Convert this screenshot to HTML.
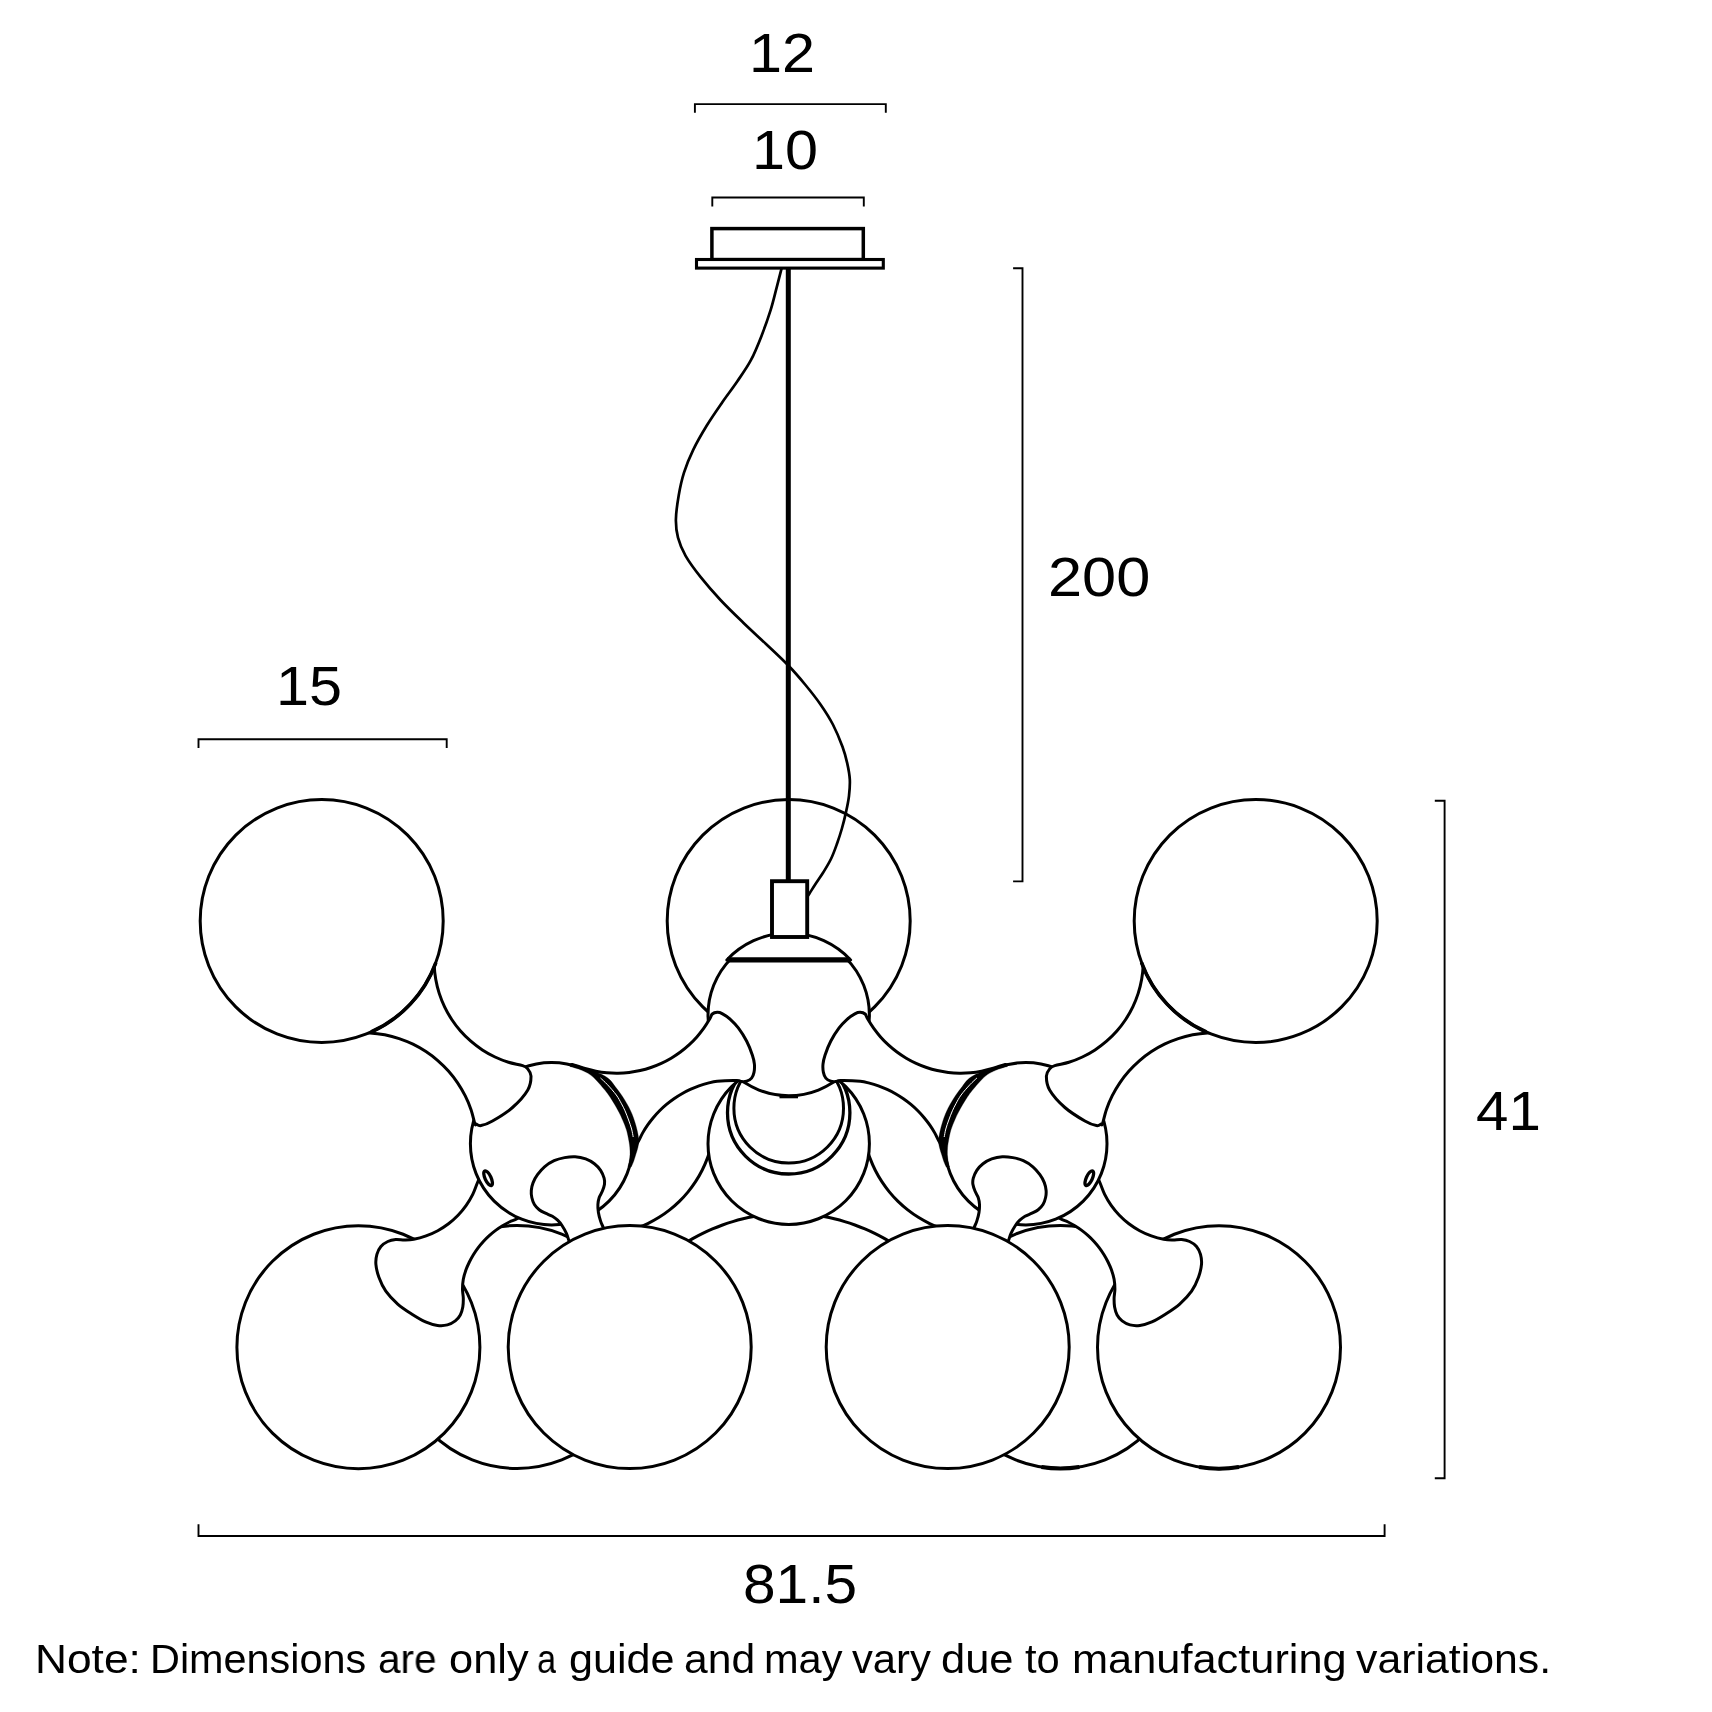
<!DOCTYPE html>
<html><head><meta charset="utf-8"><title>Pendant dimensions</title>
<style>html,body{margin:0;padding:0;background:#fff}body{width:1712px;height:1712px;position:relative;overflow:hidden;font-family:"Liberation Sans",sans-serif;color:#000}.d{position:absolute;font-size:56.0px;line-height:1;white-space:nowrap;transform-origin:0 0;transform:scaleX(1.06)}.n{position:absolute;font-size:41.4px;line-height:1;white-space:nowrap;transform-origin:0 0;will-change:transform}</style></head><body>
<svg width="1712" height="1712" viewBox="0 0 1712 1712" style="position:absolute;left:0;top:0" fill="none" stroke="#000" stroke-linecap="butt" stroke-linejoin="round">
<defs><clipPath id="h3clip"><circle cx="788.70" cy="1143.70" r="80.70"/></clipPath></defs>
<circle cx="788.70" cy="921.00" r="121.50" fill="none" stroke-width="3.0"/>
<circle cx="517.00" cy="1347.00" r="121.50" fill="#fff" stroke-width="3.0"/>
<path d="M635.82 1228.50 C637.81 1227.68 643.88 1225.42 647.76 1223.55 C651.64 1221.69 655.43 1219.61 659.08 1217.33 C662.73 1215.06 666.28 1212.57 669.66 1209.91 C673.04 1207.26 676.30 1204.40 679.37 1201.39 C682.44 1198.37 685.36 1195.18 688.08 1191.85 C690.81 1188.52 693.36 1185.02 695.71 1181.42 C698.05 1177.81 700.21 1174.05 702.14 1170.21 C704.08 1166.37 705.82 1162.40 707.32 1158.38 C708.83 1154.35 710.53 1148.10 711.18 1146.04" fill="none" stroke-width="3.0" />
<path d="M683.94 1243.91 C685.48 1242.99 690.05 1240.14 693.18 1238.38 C696.30 1236.63 699.48 1234.96 702.70 1233.38 C705.92 1231.80 709.19 1230.30 712.49 1228.90 C715.79 1227.50 719.13 1226.19 722.51 1224.97 C725.88 1223.76 729.29 1222.63 732.73 1221.60 C736.16 1220.57 739.63 1219.64 743.12 1218.80 C746.60 1217.96 750.12 1217.22 753.65 1216.57 C757.17 1215.93 760.72 1215.38 764.28 1214.93 C767.84 1214.49 773.21 1214.06 774.99 1213.88" fill="none" stroke-width="3.0" />
<g transform="translate(1577.40,0) scale(-1,1)">
<circle cx="517.00" cy="1347.00" r="121.50" fill="#fff" stroke-width="3.0"/>
<path d="M635.82 1228.50 C637.81 1227.68 643.88 1225.42 647.76 1223.55 C651.64 1221.69 655.43 1219.61 659.08 1217.33 C662.73 1215.06 666.28 1212.57 669.66 1209.91 C673.04 1207.26 676.30 1204.40 679.37 1201.39 C682.44 1198.37 685.36 1195.18 688.08 1191.85 C690.81 1188.52 693.36 1185.02 695.71 1181.42 C698.05 1177.81 700.21 1174.05 702.14 1170.21 C704.08 1166.37 705.82 1162.40 707.32 1158.38 C708.83 1154.35 710.53 1148.10 711.18 1146.04" fill="none" stroke-width="3.0" />
<path d="M683.94 1243.91 C685.48 1242.99 690.05 1240.14 693.18 1238.38 C696.30 1236.63 699.48 1234.96 702.70 1233.38 C705.92 1231.80 709.19 1230.30 712.49 1228.90 C715.79 1227.50 719.13 1226.19 722.51 1224.97 C725.88 1223.76 729.29 1222.63 732.73 1221.60 C736.16 1220.57 739.63 1219.64 743.12 1218.80 C746.60 1217.96 750.12 1217.22 753.65 1216.57 C757.17 1215.93 760.72 1215.38 764.28 1214.93 C767.84 1214.49 773.21 1214.06 774.99 1213.88" fill="none" stroke-width="3.0" />
</g>
<circle cx="788.70" cy="1143.70" r="80.70" fill="#fff" stroke-width="3.0"/>
<g clip-path="url(#h3clip)">
<circle cx="788.70" cy="1112.80" r="61.20" fill="none" stroke-width="3.3"/>
<circle cx="788.70" cy="1108.30" r="54.80" fill="none" stroke-width="3.0"/>
</g>
<circle cx="788.70" cy="1015.00" r="80.70" fill="#fff" stroke-width="3.0"/>
<line x1="779.5" y1="1096.6" x2="798" y2="1096.6" stroke-width="3.4"/>
<path d="M726.8 959.9 A84.75 84.75 0 0 1 850.6 959.9 Z" fill="#fff" stroke-width="3.0"/>
<line x1="727.2" y1="959.9" x2="850.2" y2="959.9" stroke-width="5.4"/>
<path d="M572.00 1064.50 C574.17 1065.17 581.03 1067.39 585.00 1068.51 C588.97 1069.63 592.18 1070.50 595.82 1071.21 C599.47 1071.92 603.17 1072.45 606.87 1072.78 C610.57 1073.11 614.31 1073.24 618.03 1073.19 C621.74 1073.13 625.47 1072.88 629.16 1072.44 C632.85 1072.00 636.53 1071.36 640.16 1070.54 C643.78 1069.72 647.38 1068.70 650.90 1067.51 C654.42 1066.32 657.89 1064.93 661.27 1063.38 C664.64 1061.83 667.95 1060.09 671.15 1058.20 C674.34 1056.30 677.46 1054.23 680.44 1052.02 C683.42 1049.80 686.31 1047.42 689.04 1044.91 C691.78 1042.39 694.40 1039.73 696.86 1036.94 C699.32 1034.16 701.65 1031.23 703.81 1028.21 C705.96 1025.19 708.39 1021.17 709.81 1018.80 C711.23 1016.43 711.07 1015.08 712.30 1014.00 C713.53 1012.92 715.57 1012.37 717.20 1012.30 C718.83 1012.23 719.92 1012.43 722.10 1013.60 C724.28 1014.77 727.57 1016.87 730.30 1019.30 C733.03 1021.73 735.77 1024.53 738.50 1028.20 C741.23 1031.87 744.38 1036.80 746.70 1041.30 C749.02 1045.80 751.12 1051.38 752.40 1055.20 C753.68 1059.02 754.13 1061.33 754.40 1064.20 C754.67 1067.07 754.47 1070.08 754.00 1072.40 C753.53 1074.72 752.82 1076.63 751.60 1078.10 C750.38 1079.57 748.33 1080.62 746.70 1081.20 C745.07 1081.78 743.43 1081.70 741.80 1081.60 C740.17 1081.50 741.00 1080.66 736.90 1080.60 C732.80 1080.54 722.00 1080.83 717.18 1081.25 C712.36 1081.68 711.01 1082.40 707.98 1083.17 C704.95 1083.94 701.94 1084.86 698.99 1085.90 C696.04 1086.94 693.12 1088.12 690.28 1089.42 C687.43 1090.72 684.63 1092.15 681.92 1093.70 C679.20 1095.25 676.54 1096.92 673.97 1098.71 C671.40 1100.50 668.90 1102.40 666.50 1104.41 C664.10 1106.42 661.78 1108.54 659.57 1110.75 C657.36 1112.97 655.24 1115.29 653.23 1117.69 C651.23 1120.09 649.32 1122.59 647.54 1125.17 C645.76 1127.74 644.09 1130.40 642.54 1133.12 C640.99 1135.84 639.86 1138.67 638.27 1141.49 C636.68 1144.30 635.21 1146.91 633.00 1150.00 C630.79 1153.09 626.33 1158.33 625.00 1160.00 L600 1150Z" fill="#fff" stroke-width="3.0" />
<circle cx="358.40" cy="1347.20" r="121.50" fill="#fff" stroke-width="3.0"/>
<path d="M485.00 1165.00 C483.76 1167.92 479.57 1177.61 477.53 1182.51 C475.49 1187.41 474.64 1190.57 472.75 1194.38 C470.87 1198.20 468.66 1201.91 466.21 1205.39 C463.76 1208.87 461.02 1212.20 458.07 1215.26 C455.11 1218.32 451.89 1221.19 448.51 1223.77 C445.12 1226.34 441.49 1228.69 437.75 1230.72 C434.02 1232.74 430.07 1234.50 426.07 1235.94 C422.06 1237.37 417.28 1238.63 413.72 1239.31 C410.16 1239.98 407.70 1239.95 404.70 1240.00 C401.70 1240.05 398.52 1239.35 395.70 1239.60 C392.88 1239.85 390.27 1240.35 387.80 1241.50 C385.33 1242.65 382.72 1244.35 380.90 1246.50 C379.08 1248.65 377.73 1251.43 376.90 1254.40 C376.07 1257.37 375.57 1260.50 375.90 1264.30 C376.23 1268.10 377.25 1272.72 378.90 1277.20 C380.55 1281.68 382.67 1286.72 385.80 1291.20 C388.93 1295.68 393.40 1300.30 397.70 1304.10 C402.00 1307.90 406.97 1311.03 411.60 1314.00 C416.23 1316.97 421.18 1320.00 425.50 1321.90 C429.82 1323.80 433.85 1324.90 437.50 1325.40 C441.15 1325.90 444.43 1325.65 447.40 1324.90 C450.37 1324.15 453.15 1322.55 455.30 1320.90 C457.45 1319.25 459.05 1317.32 460.30 1315.00 C461.55 1312.68 462.30 1309.82 462.80 1307.00 C463.30 1304.18 463.35 1301.07 463.30 1298.10 C463.25 1295.13 462.50 1292.35 462.50 1289.20 C462.50 1286.05 462.70 1282.47 463.30 1279.20 C463.90 1275.93 465.06 1272.46 466.07 1269.59 C467.08 1266.72 468.16 1264.46 469.37 1261.98 C470.59 1259.50 471.94 1257.06 473.38 1254.71 C474.83 1252.35 476.40 1250.06 478.06 1247.85 C479.73 1245.65 481.50 1243.51 483.37 1241.47 C485.23 1239.43 487.21 1237.47 489.26 1235.62 C491.31 1233.76 493.45 1232.00 495.67 1230.35 C497.89 1228.70 500.19 1227.14 502.55 1225.71 C504.92 1224.28 507.36 1222.95 509.85 1221.75 C512.33 1220.54 514.12 1220.45 517.48 1218.49 C520.84 1216.53 527.91 1211.41 530.00 1210.00Z" fill="#fff" stroke-width="3.0" />
<circle cx="551.60" cy="1143.70" r="81.20" fill="#fff" stroke-width="3.0"/>
<path d="M570.00 1066.50 C571.67 1067.02 576.67 1068.25 580.00 1069.60 C583.33 1070.95 587.17 1072.70 590.00 1074.60 C592.83 1076.50 594.67 1078.58 597.00 1081.00 C599.33 1083.42 602.07 1086.77 604.00 1089.10 C605.93 1091.43 606.85 1092.48 608.60 1095.00 C610.35 1097.52 612.75 1101.27 614.50 1104.20 C616.25 1107.13 617.75 1109.97 619.10 1112.60 C620.45 1115.23 621.37 1117.10 622.60 1120.00 C623.83 1122.90 625.47 1126.58 626.50 1130.00 C627.53 1133.42 628.25 1137.58 628.80 1140.50 C629.35 1143.42 629.60 1145.17 629.80 1147.50 C630.00 1149.83 630.10 1152.17 630.00 1154.50 C629.90 1156.83 629.55 1159.42 629.20 1161.50 C628.85 1163.58 628.12 1166.08 627.90 1167.00 L631.20 1167.00 C631.60 1166.08 632.83 1163.58 633.60 1161.50 C634.37 1159.42 635.08 1156.83 635.80 1154.50 C636.52 1152.17 637.40 1149.83 637.90 1147.50 C638.40 1145.17 638.90 1143.25 638.80 1140.50 C638.70 1137.75 637.93 1134.00 637.30 1131.00 C636.67 1128.00 635.88 1125.33 635.00 1122.50 C634.12 1119.67 633.18 1116.85 632.00 1114.00 C630.82 1111.15 629.65 1108.57 627.90 1105.40 C626.15 1102.23 623.62 1098.13 621.50 1095.00 C619.38 1091.87 617.18 1089.17 615.20 1086.60 C613.22 1084.03 611.87 1081.65 609.60 1079.60 C607.33 1077.55 604.87 1075.92 601.60 1074.30 C598.33 1072.68 593.60 1071.23 590.00 1069.90 C586.40 1068.57 583.33 1067.35 580.00 1066.30 C576.67 1065.25 571.67 1064.05 570.00 1063.60Z" fill="#000" stroke-width="0.3" />
<path d="M600.50 1078.00 C601.67 1079.12 604.87 1081.87 607.50 1084.70 C610.13 1087.53 613.97 1091.82 616.30 1095.00 C618.63 1098.18 620.05 1101.17 621.50 1103.80 C622.95 1106.43 623.82 1108.10 625.00 1110.80 C626.18 1113.50 627.50 1116.97 628.60 1120.00 C629.70 1123.03 630.83 1126.17 631.60 1129.00 C632.37 1131.83 632.93 1135.67 633.20 1137.00" fill="none" stroke-width="1.0" stroke="#fff"/>
<path d="M434.60 950.45 C434.53 952.86 433.99 960.12 434.18 964.93 C434.37 969.75 434.89 974.60 435.73 979.34 C436.57 984.09 437.74 988.82 439.22 993.41 C440.70 997.99 442.50 1002.52 444.59 1006.86 C446.67 1011.21 449.08 1015.45 451.74 1019.47 C454.39 1023.49 457.35 1027.36 460.53 1030.99 C463.71 1034.61 467.17 1038.04 470.81 1041.20 C474.45 1044.36 478.34 1047.29 482.38 1049.92 C486.42 1052.56 490.67 1054.93 495.03 1056.99 C499.38 1059.05 503.92 1060.83 508.52 1062.28 C513.12 1063.73 519.44 1064.63 522.61 1065.68 C525.77 1066.74 526.10 1066.88 527.50 1068.60 C528.90 1070.32 530.95 1072.43 531.00 1076.00 C531.05 1079.57 530.88 1084.75 527.80 1090.00 C524.72 1095.25 518.38 1102.33 512.50 1107.50 C506.62 1112.67 497.75 1117.98 492.50 1121.00 C487.25 1124.02 483.75 1125.10 481.00 1125.60 C478.25 1126.10 477.01 1124.30 476.00 1124.00 C474.99 1123.70 475.77 1126.25 474.92 1123.82 C474.08 1121.39 472.58 1114.13 470.95 1109.44 C469.32 1104.75 467.37 1100.14 465.14 1095.70 C462.91 1091.27 460.38 1086.94 457.59 1082.84 C454.81 1078.73 451.73 1074.77 448.43 1071.06 C445.13 1067.36 441.56 1063.83 437.81 1060.58 C434.06 1057.34 430.06 1054.31 425.92 1051.58 C421.78 1048.85 417.42 1046.36 412.96 1044.20 C408.50 1042.03 403.85 1040.13 399.14 1038.57 C394.44 1037.00 389.59 1035.72 384.72 1034.78 C379.84 1033.84 374.87 1033.21 369.92 1032.91 C364.96 1032.61 357.48 1032.97 355.00 1032.98Z" fill="#fff" stroke-width="3.0" />
<circle cx="321.70" cy="921.00" r="121.50" fill="#fff" stroke-width="3.0"/>
<path d="M435.87 962.56 A121.50 121.50 0 0 1 371.12 1032.00" fill="none" stroke-width="3.6" />
<path d="M571.00 1245.00 C570.67 1244.30 569.77 1242.73 569.00 1240.80 C568.23 1238.87 567.57 1235.95 566.40 1233.40 C565.23 1230.85 563.47 1227.70 562.00 1225.50 C560.53 1223.30 559.20 1221.73 557.60 1220.20 C556.00 1218.67 554.43 1217.47 552.40 1216.30 C550.37 1215.13 547.60 1214.30 545.40 1213.20 C543.20 1212.10 541.03 1211.15 539.20 1209.70 C537.37 1208.25 535.63 1206.53 534.40 1204.50 C533.17 1202.47 532.32 1199.83 531.80 1197.50 C531.28 1195.17 531.08 1192.98 531.30 1190.50 C531.52 1188.02 532.07 1185.23 533.10 1182.60 C534.13 1179.97 535.60 1177.33 537.50 1174.70 C539.40 1172.07 541.73 1169.13 544.50 1166.80 C547.27 1164.47 550.75 1162.23 554.10 1160.70 C557.45 1159.17 561.10 1158.27 564.60 1157.60 C568.10 1156.93 571.58 1156.48 575.10 1156.70 C578.62 1156.92 582.48 1157.73 585.70 1158.90 C588.92 1160.07 591.92 1161.80 594.40 1163.70 C596.88 1165.60 598.98 1167.88 600.60 1170.30 C602.22 1172.72 603.45 1175.87 604.10 1178.20 C604.75 1180.53 604.80 1182.12 604.50 1184.30 C604.20 1186.48 603.18 1189.10 602.30 1191.30 C601.42 1193.50 599.93 1195.30 599.20 1197.50 C598.47 1199.70 598.03 1202.02 597.90 1204.50 C597.77 1206.98 597.95 1209.63 598.40 1212.40 C598.85 1215.17 599.80 1218.62 600.60 1221.10 C601.40 1223.58 602.30 1225.15 603.20 1227.30 C604.10 1229.45 605.53 1232.88 606.00 1234.00Z" fill="#fff" stroke-width="3.0" />
<circle cx="629.70" cy="1347.10" r="121.50" fill="#fff" stroke-width="3.0"/>
<ellipse cx="488.1" cy="1178.2" rx="3.0" ry="8.0" fill="#fff" stroke-width="3.3" transform="rotate(-25 488.1 1178.2)"/>
<g transform="translate(1577.40,0) scale(-1,1)">
<path d="M572.00 1064.50 C574.17 1065.17 581.03 1067.39 585.00 1068.51 C588.97 1069.63 592.18 1070.50 595.82 1071.21 C599.47 1071.92 603.17 1072.45 606.87 1072.78 C610.57 1073.11 614.31 1073.24 618.03 1073.19 C621.74 1073.13 625.47 1072.88 629.16 1072.44 C632.85 1072.00 636.53 1071.36 640.16 1070.54 C643.78 1069.72 647.38 1068.70 650.90 1067.51 C654.42 1066.32 657.89 1064.93 661.27 1063.38 C664.64 1061.83 667.95 1060.09 671.15 1058.20 C674.34 1056.30 677.46 1054.23 680.44 1052.02 C683.42 1049.80 686.31 1047.42 689.04 1044.91 C691.78 1042.39 694.40 1039.73 696.86 1036.94 C699.32 1034.16 701.65 1031.23 703.81 1028.21 C705.96 1025.19 708.39 1021.17 709.81 1018.80 C711.23 1016.43 711.07 1015.08 712.30 1014.00 C713.53 1012.92 715.57 1012.37 717.20 1012.30 C718.83 1012.23 719.92 1012.43 722.10 1013.60 C724.28 1014.77 727.57 1016.87 730.30 1019.30 C733.03 1021.73 735.77 1024.53 738.50 1028.20 C741.23 1031.87 744.38 1036.80 746.70 1041.30 C749.02 1045.80 751.12 1051.38 752.40 1055.20 C753.68 1059.02 754.13 1061.33 754.40 1064.20 C754.67 1067.07 754.47 1070.08 754.00 1072.40 C753.53 1074.72 752.82 1076.63 751.60 1078.10 C750.38 1079.57 748.33 1080.62 746.70 1081.20 C745.07 1081.78 743.43 1081.70 741.80 1081.60 C740.17 1081.50 741.00 1080.66 736.90 1080.60 C732.80 1080.54 722.00 1080.83 717.18 1081.25 C712.36 1081.68 711.01 1082.40 707.98 1083.17 C704.95 1083.94 701.94 1084.86 698.99 1085.90 C696.04 1086.94 693.12 1088.12 690.28 1089.42 C687.43 1090.72 684.63 1092.15 681.92 1093.70 C679.20 1095.25 676.54 1096.92 673.97 1098.71 C671.40 1100.50 668.90 1102.40 666.50 1104.41 C664.10 1106.42 661.78 1108.54 659.57 1110.75 C657.36 1112.97 655.24 1115.29 653.23 1117.69 C651.23 1120.09 649.32 1122.59 647.54 1125.17 C645.76 1127.74 644.09 1130.40 642.54 1133.12 C640.99 1135.84 639.86 1138.67 638.27 1141.49 C636.68 1144.30 635.21 1146.91 633.00 1150.00 C630.79 1153.09 626.33 1158.33 625.00 1160.00 L600 1150Z" fill="#fff" stroke-width="3.0" />
<circle cx="358.40" cy="1347.20" r="121.50" fill="#fff" stroke-width="3.0"/>
<path d="M485.00 1165.00 C483.76 1167.92 479.57 1177.61 477.53 1182.51 C475.49 1187.41 474.64 1190.57 472.75 1194.38 C470.87 1198.20 468.66 1201.91 466.21 1205.39 C463.76 1208.87 461.02 1212.20 458.07 1215.26 C455.11 1218.32 451.89 1221.19 448.51 1223.77 C445.12 1226.34 441.49 1228.69 437.75 1230.72 C434.02 1232.74 430.07 1234.50 426.07 1235.94 C422.06 1237.37 417.28 1238.63 413.72 1239.31 C410.16 1239.98 407.70 1239.95 404.70 1240.00 C401.70 1240.05 398.52 1239.35 395.70 1239.60 C392.88 1239.85 390.27 1240.35 387.80 1241.50 C385.33 1242.65 382.72 1244.35 380.90 1246.50 C379.08 1248.65 377.73 1251.43 376.90 1254.40 C376.07 1257.37 375.57 1260.50 375.90 1264.30 C376.23 1268.10 377.25 1272.72 378.90 1277.20 C380.55 1281.68 382.67 1286.72 385.80 1291.20 C388.93 1295.68 393.40 1300.30 397.70 1304.10 C402.00 1307.90 406.97 1311.03 411.60 1314.00 C416.23 1316.97 421.18 1320.00 425.50 1321.90 C429.82 1323.80 433.85 1324.90 437.50 1325.40 C441.15 1325.90 444.43 1325.65 447.40 1324.90 C450.37 1324.15 453.15 1322.55 455.30 1320.90 C457.45 1319.25 459.05 1317.32 460.30 1315.00 C461.55 1312.68 462.30 1309.82 462.80 1307.00 C463.30 1304.18 463.35 1301.07 463.30 1298.10 C463.25 1295.13 462.50 1292.35 462.50 1289.20 C462.50 1286.05 462.70 1282.47 463.30 1279.20 C463.90 1275.93 465.06 1272.46 466.07 1269.59 C467.08 1266.72 468.16 1264.46 469.37 1261.98 C470.59 1259.50 471.94 1257.06 473.38 1254.71 C474.83 1252.35 476.40 1250.06 478.06 1247.85 C479.73 1245.65 481.50 1243.51 483.37 1241.47 C485.23 1239.43 487.21 1237.47 489.26 1235.62 C491.31 1233.76 493.45 1232.00 495.67 1230.35 C497.89 1228.70 500.19 1227.14 502.55 1225.71 C504.92 1224.28 507.36 1222.95 509.85 1221.75 C512.33 1220.54 514.12 1220.45 517.48 1218.49 C520.84 1216.53 527.91 1211.41 530.00 1210.00Z" fill="#fff" stroke-width="3.0" />
<circle cx="551.60" cy="1143.70" r="81.20" fill="#fff" stroke-width="3.0"/>
<path d="M570.00 1066.50 C571.67 1067.02 576.67 1068.25 580.00 1069.60 C583.33 1070.95 587.17 1072.70 590.00 1074.60 C592.83 1076.50 594.67 1078.58 597.00 1081.00 C599.33 1083.42 602.07 1086.77 604.00 1089.10 C605.93 1091.43 606.85 1092.48 608.60 1095.00 C610.35 1097.52 612.75 1101.27 614.50 1104.20 C616.25 1107.13 617.75 1109.97 619.10 1112.60 C620.45 1115.23 621.37 1117.10 622.60 1120.00 C623.83 1122.90 625.47 1126.58 626.50 1130.00 C627.53 1133.42 628.25 1137.58 628.80 1140.50 C629.35 1143.42 629.60 1145.17 629.80 1147.50 C630.00 1149.83 630.10 1152.17 630.00 1154.50 C629.90 1156.83 629.55 1159.42 629.20 1161.50 C628.85 1163.58 628.12 1166.08 627.90 1167.00 L631.20 1167.00 C631.60 1166.08 632.83 1163.58 633.60 1161.50 C634.37 1159.42 635.08 1156.83 635.80 1154.50 C636.52 1152.17 637.40 1149.83 637.90 1147.50 C638.40 1145.17 638.90 1143.25 638.80 1140.50 C638.70 1137.75 637.93 1134.00 637.30 1131.00 C636.67 1128.00 635.88 1125.33 635.00 1122.50 C634.12 1119.67 633.18 1116.85 632.00 1114.00 C630.82 1111.15 629.65 1108.57 627.90 1105.40 C626.15 1102.23 623.62 1098.13 621.50 1095.00 C619.38 1091.87 617.18 1089.17 615.20 1086.60 C613.22 1084.03 611.87 1081.65 609.60 1079.60 C607.33 1077.55 604.87 1075.92 601.60 1074.30 C598.33 1072.68 593.60 1071.23 590.00 1069.90 C586.40 1068.57 583.33 1067.35 580.00 1066.30 C576.67 1065.25 571.67 1064.05 570.00 1063.60Z" fill="#000" stroke-width="0.3" />
<path d="M600.50 1078.00 C601.67 1079.12 604.87 1081.87 607.50 1084.70 C610.13 1087.53 613.97 1091.82 616.30 1095.00 C618.63 1098.18 620.05 1101.17 621.50 1103.80 C622.95 1106.43 623.82 1108.10 625.00 1110.80 C626.18 1113.50 627.50 1116.97 628.60 1120.00 C629.70 1123.03 630.83 1126.17 631.60 1129.00 C632.37 1131.83 632.93 1135.67 633.20 1137.00" fill="none" stroke-width="1.0" stroke="#fff"/>
<path d="M434.60 950.45 C434.53 952.86 433.99 960.12 434.18 964.93 C434.37 969.75 434.89 974.60 435.73 979.34 C436.57 984.09 437.74 988.82 439.22 993.41 C440.70 997.99 442.50 1002.52 444.59 1006.86 C446.67 1011.21 449.08 1015.45 451.74 1019.47 C454.39 1023.49 457.35 1027.36 460.53 1030.99 C463.71 1034.61 467.17 1038.04 470.81 1041.20 C474.45 1044.36 478.34 1047.29 482.38 1049.92 C486.42 1052.56 490.67 1054.93 495.03 1056.99 C499.38 1059.05 503.92 1060.83 508.52 1062.28 C513.12 1063.73 519.44 1064.63 522.61 1065.68 C525.77 1066.74 526.10 1066.88 527.50 1068.60 C528.90 1070.32 530.95 1072.43 531.00 1076.00 C531.05 1079.57 530.88 1084.75 527.80 1090.00 C524.72 1095.25 518.38 1102.33 512.50 1107.50 C506.62 1112.67 497.75 1117.98 492.50 1121.00 C487.25 1124.02 483.75 1125.10 481.00 1125.60 C478.25 1126.10 477.01 1124.30 476.00 1124.00 C474.99 1123.70 475.77 1126.25 474.92 1123.82 C474.08 1121.39 472.58 1114.13 470.95 1109.44 C469.32 1104.75 467.37 1100.14 465.14 1095.70 C462.91 1091.27 460.38 1086.94 457.59 1082.84 C454.81 1078.73 451.73 1074.77 448.43 1071.06 C445.13 1067.36 441.56 1063.83 437.81 1060.58 C434.06 1057.34 430.06 1054.31 425.92 1051.58 C421.78 1048.85 417.42 1046.36 412.96 1044.20 C408.50 1042.03 403.85 1040.13 399.14 1038.57 C394.44 1037.00 389.59 1035.72 384.72 1034.78 C379.84 1033.84 374.87 1033.21 369.92 1032.91 C364.96 1032.61 357.48 1032.97 355.00 1032.98Z" fill="#fff" stroke-width="3.0" />
<circle cx="321.70" cy="921.00" r="121.50" fill="#fff" stroke-width="3.0"/>
<path d="M435.87 962.56 A121.50 121.50 0 0 1 371.12 1032.00" fill="none" stroke-width="3.6" />
<path d="M571.00 1245.00 C570.67 1244.30 569.77 1242.73 569.00 1240.80 C568.23 1238.87 567.57 1235.95 566.40 1233.40 C565.23 1230.85 563.47 1227.70 562.00 1225.50 C560.53 1223.30 559.20 1221.73 557.60 1220.20 C556.00 1218.67 554.43 1217.47 552.40 1216.30 C550.37 1215.13 547.60 1214.30 545.40 1213.20 C543.20 1212.10 541.03 1211.15 539.20 1209.70 C537.37 1208.25 535.63 1206.53 534.40 1204.50 C533.17 1202.47 532.32 1199.83 531.80 1197.50 C531.28 1195.17 531.08 1192.98 531.30 1190.50 C531.52 1188.02 532.07 1185.23 533.10 1182.60 C534.13 1179.97 535.60 1177.33 537.50 1174.70 C539.40 1172.07 541.73 1169.13 544.50 1166.80 C547.27 1164.47 550.75 1162.23 554.10 1160.70 C557.45 1159.17 561.10 1158.27 564.60 1157.60 C568.10 1156.93 571.58 1156.48 575.10 1156.70 C578.62 1156.92 582.48 1157.73 585.70 1158.90 C588.92 1160.07 591.92 1161.80 594.40 1163.70 C596.88 1165.60 598.98 1167.88 600.60 1170.30 C602.22 1172.72 603.45 1175.87 604.10 1178.20 C604.75 1180.53 604.80 1182.12 604.50 1184.30 C604.20 1186.48 603.18 1189.10 602.30 1191.30 C601.42 1193.50 599.93 1195.30 599.20 1197.50 C598.47 1199.70 598.03 1202.02 597.90 1204.50 C597.77 1206.98 597.95 1209.63 598.40 1212.40 C598.85 1215.17 599.80 1218.62 600.60 1221.10 C601.40 1223.58 602.30 1225.15 603.20 1227.30 C604.10 1229.45 605.53 1232.88 606.00 1234.00Z" fill="#fff" stroke-width="3.0" />
<circle cx="629.70" cy="1347.10" r="121.50" fill="#fff" stroke-width="3.0"/>
<ellipse cx="488.1" cy="1178.2" rx="3.0" ry="8.0" fill="#fff" stroke-width="3.3" transform="rotate(-25 488.1 1178.2)"/>
</g>
<path d="M1199.00 1467.04 A121.50 121.50 0 0 0 1239.00 1467.04" stroke-width="4"/>
<path d="M1041.40 1467.01 A121.50 121.50 0 0 0 1079.40 1467.01" stroke-width="4"/>
<line x1="788.3" y1="268" x2="788.3" y2="881" stroke-width="5"/>
<path d="M782.00 266.00 C781.87 266.65 782.08 266.35 781.20 269.90 C780.32 273.45 778.47 280.60 776.70 287.30 C774.93 294.00 773.13 302.00 770.60 310.10 C768.07 318.20 764.78 327.55 761.50 335.90 C758.22 344.25 754.95 352.60 750.90 360.20 C746.85 367.80 742.02 374.42 737.20 381.50 C732.38 388.58 727.07 395.37 722.00 402.70 C716.93 410.03 711.60 417.65 706.80 425.50 C702.00 433.35 697.00 441.95 693.20 449.80 C689.40 457.65 686.42 465.00 684.00 472.60 C681.58 480.20 680.05 487.58 678.70 495.40 C677.35 503.22 676.02 512.45 675.90 519.50 C675.78 526.55 676.38 531.63 678.00 537.70 C679.62 543.77 681.82 549.32 685.60 555.90 C689.38 562.48 694.88 569.85 700.70 577.20 C706.52 584.55 713.40 592.42 720.50 600.00 C727.60 607.58 735.72 615.37 743.30 622.70 C750.88 630.03 758.53 636.90 766.00 644.00 C773.47 651.10 781.52 658.47 788.10 665.30 C794.68 672.13 800.07 678.43 805.50 685.00 C810.93 691.57 816.13 698.12 820.70 704.70 C825.27 711.28 829.27 717.50 832.90 724.50 C836.53 731.50 840.12 740.27 842.50 746.70 C844.88 753.13 845.98 757.65 847.20 763.10 C848.42 768.55 849.50 773.95 849.80 779.40 C850.10 784.85 849.63 790.35 849.00 795.80 C848.37 801.25 847.18 806.65 846.00 812.10 C844.82 817.55 843.40 823.23 841.90 828.50 C840.40 833.77 838.78 838.70 837.00 843.70 C835.22 848.70 833.45 853.78 831.20 858.50 C828.95 863.22 826.12 867.75 823.50 872.00 C820.88 876.25 817.88 880.35 815.50 884.00 C813.12 887.65 811.12 890.90 809.20 893.90 C807.28 896.90 804.87 900.65 804.00 902.00" fill="none" stroke-width="2.7" />
<rect x="772" y="881.2" width="35.2" height="55.8" fill="#fff" stroke-width="3.9" stroke-linejoin="miter"/>
<rect x="711.9" y="228.6" width="151.4" height="31" fill="#fff" stroke-width="3.5" stroke-linejoin="miter"/>
<rect x="696.5" y="259.5" width="186.8" height="8.6" fill="#fff" stroke-width="3.1" stroke-linejoin="miter"/>
<polyline points="694.9,112.8 694.9,104.1 885.8,104.1 885.8,112.8" fill="none" stroke-width="1.9" stroke-linejoin="miter"/>
<polyline points="712.3,206.6 712.3,197.5 863.8,197.5 863.8,206.6" fill="none" stroke-width="1.9" stroke-linejoin="miter"/>
<polyline points="198.5,747.9 198.5,739.3 446.7,739.3 446.7,747.9" fill="none" stroke-width="1.9" stroke-linejoin="miter"/>
<polyline points="1013.1,268.2 1022.5,268.2 1022.5,881.4 1013.1,881.4" fill="none" stroke-width="1.9" stroke-linejoin="miter"/>
<polyline points="1434.8,800.8 1444.6,800.8 1444.6,1478.2 1434.8,1478.2" fill="none" stroke-width="1.9" stroke-linejoin="miter"/>
<polyline points="198.5,1524.3 198.5,1536.0 1384.6,1536.0 1384.6,1524.3" fill="none" stroke-width="1.9" stroke-linejoin="miter"/>
</svg>
<div class="d" style="left:748.50px;top:25.00px">12</div>
<div class="d" style="left:752.20px;top:122.20px">10</div>
<div class="d" style="left:276.20px;top:658.20px">15</div>
<div class="d" style="left:1047.50px;top:549.00px;transform:scaleX(1.095)">200</div>
<div class="d" style="left:1475.70px;top:1083.00px;transform:scaleX(1.04)">41</div>
<div class="d" style="left:742.60px;top:1556.40px;transform:scaleX(1.047)">81.5</div>
<div class="n" style="left:34.90px;top:1638.90px;font-size:41.0px;transform:scaleX(1.0802)">Note:</div>
<div class="n" style="left:149.76px;top:1638.90px;font-size:41.0px;transform:scaleX(1.0096)">Dimensions</div>
<div class="n" style="left:378.21px;top:1638.90px;font-size:41.0px;transform:scaleX(0.9878)">are</div>
<div class="n" style="left:448.50px;top:1638.90px;font-size:41.0px;transform:scaleX(1.0589)">only</div>
<div class="n" style="left:537.40px;top:1638.90px;font-size:41.0px;transform:scaleX(0.8400)">a</div>
<div class="n" style="left:568.92px;top:1638.90px;font-size:41.0px;transform:scaleX(1.0515)">guide</div>
<div class="n" style="left:683.95px;top:1638.90px;font-size:41.0px;transform:scaleX(1.0391)">and</div>
<div class="n" style="left:764.36px;top:1638.90px;font-size:41.0px;transform:scaleX(1.0135)">may</div>
<div class="n" style="left:852.00px;top:1638.90px;font-size:41.0px;transform:scaleX(1.0182)">vary</div>
<div class="n" style="left:941.29px;top:1638.90px;font-size:41.0px;transform:scaleX(1.0601)">due</div>
<div class="n" style="left:1024.98px;top:1638.90px;font-size:41.0px;transform:scaleX(1.0159)">to</div>
<div class="n" style="left:1071.61px;top:1638.90px;font-size:41.0px;transform:scaleX(1.0571)">manufacturing</div>
<div class="n" style="left:1355.98px;top:1638.90px;font-size:41.0px;transform:scaleX(1.0437)">variations.</div>
</body></html>
